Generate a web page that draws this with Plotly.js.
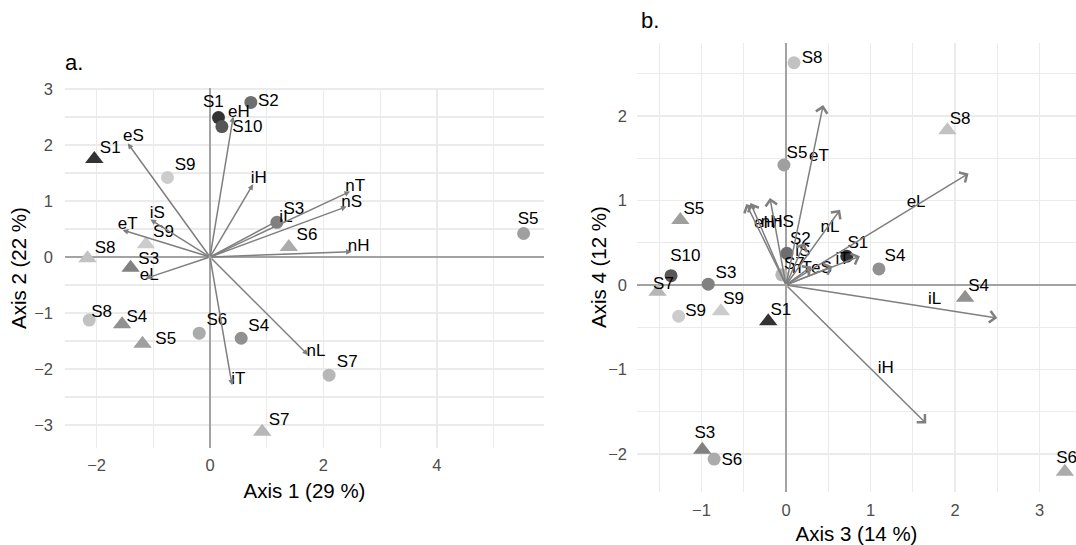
<!DOCTYPE html>
<html>
<head>
<meta charset="utf-8">
<script src="https://cdn.plot.ly/plotly-3.0.1.min.js"></script>
<style>html,body{margin:0;padding:0;background:#fff;}#chart{width:1076px;height:545px;}</style>
</head>
<body>
<div id="chart"></div>
<script>
// ---------- Panel a (Axis 1 vs Axis 2) ----------
const aCircleNames = ["S1","S10","S2","S9","S3","S8","S6","S4","S7","S5"];
const aCircleX = [0.15, 0.21, 0.72, -0.75, 1.18, -2.13, -0.19, 0.55, 2.10, 5.53];
const aCircleY = [2.49, 2.33, 2.76, 1.42, 0.62, -1.125, -1.36, -1.45, -2.11, 0.42];
const aCircleLabX = [0.06, 0.66, 1.03, -0.44, 1.48, -1.91, 0.12, 0.86, 2.42, 5.61];
const aCircleLabY = [2.76, 2.30, 2.78, 1.625, 0.85, -0.99, -1.14, -1.24, -1.89, 0.66];

const aTriNames = ["S1","S9","S8","S3","S6","S4","S5","S7"];
const aTriX = [-2.04, -1.13, -2.16, -1.40, 1.39, -1.55, -1.19, 0.92];
const aTriY = [1.75, 0.23, -0.02, -0.19, 0.18, -1.20, -1.55, -3.12];
const aTriLabX = [-1.76, -0.82, -1.85, -1.08, 1.71, -1.29, -0.78, 1.22];
const aTriLabY = [1.94, 0.43, 0.155, -0.05, 0.375, -1.08, -1.47, -2.92];

const aVarNames = ["eS","eH","iH","iL","iS","eT","eL","nT","nS","nH","nL","iT"];
const aVarX = [-1.45, 0.41, 0.76, 1.18, -1.05, -1.54, -1.13, 2.47, 2.41, 2.50, 1.73, 0.39];
const aVarY = [2.03, 2.51, 1.30, 0.64, 0.67, 0.48, -0.38, 1.17, 0.90, 0.095, -1.75, -2.29];
const aVarLabX = [-1.35, 0.51, 0.86, 1.34, -0.93, -1.45, -1.07, 2.56, 2.50, 2.62, 1.87, 0.50];
const aVarLabY = [2.14, 2.58, 1.39, 0.71, 0.78, 0.57, -0.34, 1.25, 0.97, 0.18, -1.69, -2.19];

// ---------- Panel b (Axis 3 vs Axis 4) ----------
const bCircleNames = ["S8","S5","S10","S3","S9","S2","S1","S7","S4","S6"];
const bCircleX = [0.095, -0.024, -1.36, -0.92, -1.27, 0.01, 0.72, -0.05, 1.10, -0.85];
const bCircleY = [2.63, 1.42, 0.11, 0.01, -0.37, 0.375, 0.34, 0.12, 0.19, -2.06];
const bCircleLabX = [0.31, 0.13, -1.19, -0.71, -1.07, 0.17, 0.85, 0.10, 1.29, -0.64];
const bCircleLabY = [2.68, 1.55, 0.33, 0.13, -0.32, 0.53, 0.49, 0.24, 0.34, -2.08];

const bTriNames = ["S8","S5","S7","S9","S1","S4","S3","S6"];
const bTriX = [1.91, -1.25, -1.52, -0.77, -0.21, 2.12, -0.99, 3.30];
const bTriY = [1.83, 0.77, -0.08, -0.31, -0.43, -0.15, -1.95, -2.21];
const bTriLabX = [2.06, -1.09, -1.45, -0.62, -0.06, 2.28, -0.96, 3.32];
const bTriLabY = [1.95, 0.89, 0.00, -0.17, -0.30, -0.02, -1.76, -2.06];

const bVarNames = ["eT","eL","iL","iH","eH","nH","nS","nL","iT","eS","nT","iS"];
const bVarX = [0.44, 2.16, 2.50, 1.66, -0.47, -0.42, -0.19, 0.64, 0.875, 0.55, 0.30, 0.22];
const bVarY = [2.13, 1.32, -0.39, -1.64, 0.96, 0.97, 1.03, 0.89, 0.34, 0.22, 0.22, 0.50];
const bVarLabX = [0.39, 1.54, 1.76, 1.18, -0.25, -0.17, -0.03, 0.52, 0.67, 0.42, 0.19, 0.20];
const bVarLabY = [1.52, 0.97, -0.18, -0.99, 0.73, 0.74, 0.74, 0.68, 0.30, 0.19, 0.19, 0.39];

// sample grey scale (ggplot scale_colour_grey, factor order)
const sampleOrder = ["S1","S10","S2","S3","S4","S5","S6","S7","S8","S9"];
const sampleGrey = ["#333333","#575757","#6E6E6E","#818181","#919191","#9F9F9F","#ABABAB","#B7B7B7","#C2C2C2","#CCCCCC"];
const col = n => sampleGrey[sampleOrder.indexOf(n)];

const FONT = "Liberation Sans, Arial, sans-serif";
const ARROW = "#7f7f7f";

function pts(xs, ys, names, symbol, size, xa, ya) {
  return {x: xs, y: ys, type: "scatter", mode: "markers", xaxis: xa, yaxis: ya,
    marker: {symbol: symbol, size: size, color: names.map(col), line: {width: 0}},
    hoverinfo: "skip", showlegend: false, cliponaxis: false};
}
function labs(xs, ys, names, xa, ya) {
  return {x: xs, y: ys, type: "scatter", mode: "text", text: names, xaxis: xa, yaxis: ya,
    textfont: {family: FONT, size: 17, color: "#000"}, textposition: "middle center",
    hoverinfo: "skip", showlegend: false, cliponaxis: false};
}

const traces = [
  pts(aCircleX, aCircleY, aCircleNames, "circle", 13, "x", "y"),
  pts(aTriX, aTriY, aTriNames, "triangle-up", 16, "x", "y"),
  labs(aCircleLabX, aCircleLabY, aCircleNames, "x", "y"),
  labs(aTriLabX, aTriLabY, aTriNames, "x", "y"),
  labs(aVarLabX, aVarLabY, aVarNames, "x", "y"),
  pts(bCircleX, bCircleY, bCircleNames, "circle", 13, "x2", "y2"),
  pts(bTriX, bTriY, bTriNames, "triangle-up", 16, "x2", "y2"),
  labs(bCircleLabX, bCircleLabY, bCircleNames, "x2", "y2"),
  labs(bTriLabX, bTriLabY, bTriNames, "x2", "y2"),
  labs(bVarLabX, bVarLabY, bVarNames, "x2", "y2")
];

const titleFont = {family: FONT, size: 20.5, color: "#000"};
const annotations = [];
aVarNames.forEach((n, i) => annotations.push({
  xref: "x", yref: "y", axref: "x", ayref: "y", x: aVarX[i], y: aVarY[i], ax: 0, ay: 0,
  text: "", showarrow: true, arrowhead: 2, arrowsize: 0.75, arrowwidth: 1.5, arrowcolor: ARROW
}));
bVarNames.forEach((n, i) => annotations.push({
  xref: "x2", yref: "y2", axref: "x2", ayref: "y2", x: bVarX[i], y: bVarY[i], ax: 0, ay: 0,
  text: "", showarrow: true, arrowhead: 4, arrowsize: 1.5, arrowwidth: 1.5, arrowcolor: ARROW
}));
annotations.push({xref: "paper", yref: "paper", x: 63/1076, y: 1 - 62/545, xanchor: "left", yanchor: "middle",
  text: "a.", showarrow: false, font: {family: FONT, size: 22, color: "#000"}});
annotations.push({xref: "paper", yref: "paper", x: 639/1076, y: 1 - 20/545, xanchor: "left", yanchor: "middle",
  text: "b.", showarrow: false, font: {family: FONT, size: 22, color: "#000"}});
// y-axis titles (rotated) placed as in the reference
annotations.push({xref: "paper", yref: "paper", x: 18/1076, y: 1 - 268/545, xanchor: "center", yanchor: "middle",
  textangle: -90, text: "Axis 2 (22 %)", showarrow: false, font: titleFont});
annotations.push({xref: "paper", yref: "paper", x: 598/1076, y: 1 - 267/545, xanchor: "center", yanchor: "middle",
  textangle: -90, text: "Axis 4 (12 %)", showarrow: false, font: titleFont});

const grid = "#ebebeb";
function axis(extra) {
  return Object.assign({
    showgrid: true, gridcolor: grid, gridwidth: 1.8,
    zeroline: true, zerolinecolor: "#a3a3a3", zerolinewidth: 1.8,
    showline: false, ticks: "", tickfont: {family: FONT, size: 16.5, color: "#4d4d4d"},
    fixedrange: true
  }, extra);
}
const minorX = d => ({dtick: d, showgrid: true, gridcolor: grid, gridwidth: 1.1});

const layout = {
  width: 1076, height: 545, margin: {l: 0, r: 0, t: 0, b: 0},
  paper_bgcolor: "#fff", plot_bgcolor: "#fff", showlegend: false,
  font: {family: FONT},
  xaxis: axis({domain: [65/1076, 544/1076], range: [-2.557, 5.89], dtick: 2, tick0: 0,
    minor: minorX(1), ticklabelstandoff: 5,
    title: {text: "Axis 1 (29 %)", font: titleFont, standoff: 11},
    anchor: "y"}),
  yaxis: axis({domain: [1 - 448/545, 1 - 88/545], range: [-3.41, 3.018], dtick: 1, tick0: 0,
    minor: minorX(0.5), ticklabelstandoff: 11, anchor: "x"}),
  xaxis2: axis({domain: [637/1076, 1], range: [-1.763, 3.432], dtick: 1, tick0: 0,
    minor: minorX(0.5), ticklabelstandoff: 6,
    title: {text: "Axis 3 (14 %)", font: titleFont, standoff: 11},
    anchor: "y2"}),
  yaxis2: axis({domain: [1 - 492/545, 1 - 43/545], range: [-2.45, 2.864], dtick: 1, tick0: 0,
    minor: minorX(0.5), ticklabelstandoff: 9, anchor: "x2"}),
  annotations: annotations
};

Plotly.newPlot("chart", traces, layout, {staticPlot: true, displayModeBar: false});
</script>
</body>
</html>
